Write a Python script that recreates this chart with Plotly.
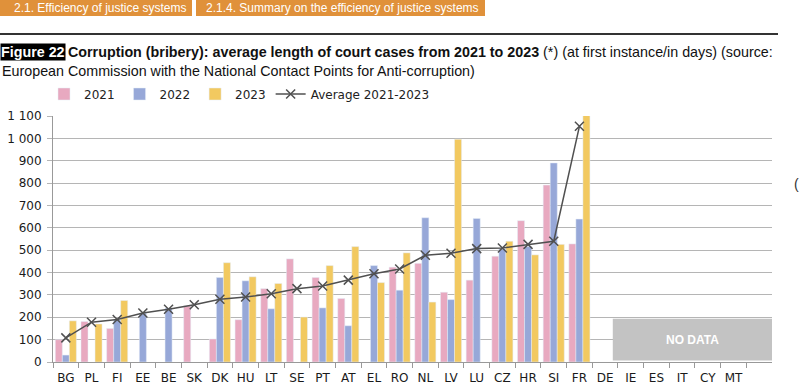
import plotly.graph_objects as go

countries = ["BG","PL","FI","EE","BE","SK","DK","HU","LT","SE","PT","AT","EL","RO",
             "NL","LV","LU","CZ","HR","SI","FR","DE","IE","ES","IT","CY","MT"]
v2021 = [100,181,150,None,None,251,103,189,328,461,378,284,None,424,441,312,366,473,632,791,528,None,None,None,None,None,None]
v2022 = [31,None,190,219,241,None,378,363,238,None,242,162,431,321,645,279,642,505,516,890,639,None,None,None,None,None,None]
v2023 = [184,170,275,None,None,None,444,381,351,201,431,516,355,488,268,996,None,540,479,526,1995,None,None,None,None,None,None]
avg = [108,178,190,219,236,256,281,291,305,328,340,366,395,416,477,486,507,510,526,540,1054,None,None,None,None,None,None]
ytick_vals = [0,100,200,300,400,500,600,700,800,900,1000,1100]
ytick_text = ["0","100","200","300","400","500","600","700","800","900","1 000","1 100"]

W, H = 800, 389
L, R, T, B = 53, 28, 116, 27
pw, ph = W - L - R, H - T - B

def px(x):
    return (x - L) / pw

def py(y):
    return (H - B - y) / ph

fig = go.Figure()
fig.add_bar(x=countries, y=v2021, name="2021", marker_color="#e8a9c0")
fig.add_bar(x=countries, y=v2022, name="2022", marker_color="#97a8d8")
fig.add_bar(x=countries, y=v2023, name="2023", marker_color="#f2c960")
fig.add_scatter(x=countries, y=avg, name="Average 2021-2023", mode="lines+markers",
                line=dict(color="#505050", width=1.5),
                marker=dict(symbol="x-thin", size=9, line=dict(color="#505050", width=1.5)))

font_main = "DejaVu Sans"
sans = "Liberation Sans, Arial, sans-serif"

fig.update_layout(
    width=W, height=H,
    margin=dict(l=L, r=R, t=T, b=B, autoexpand=False),
    plot_bgcolor="white", paper_bgcolor="white",
    barmode="group", bargap=0.18, bargroupgap=0,
    font=dict(family=font_main, size=12, color="#222"),
    showlegend=True,
    legend=dict(orientation="h", x=px(44), y=py(94), xanchor="left", yanchor="middle",
                font=dict(family=font_main, size=12, color="#222"),
                traceorder="normal", bgcolor="rgba(0,0,0,0)"),
    xaxis=dict(type="category", range=[-0.5, 27.5], showgrid=False,
               showline=True, linecolor="#999", linewidth=1, tickangle=0, automargin=False,
               ticks="outside", tickson="boundaries", ticklen=5, tickcolor="#999",
               ticklabelstandoff=5,
               categoryorder="array", categoryarray=countries,
               tickfont=dict(family=font_main, size=12, color="#1a1a1a")),
    yaxis=dict(range=[0, 1100], tickvals=ytick_vals, ticktext=ytick_text, automargin=False,
               showgrid=True, gridcolor="#b5b5b5", gridwidth=1,
               showline=True, linecolor="#999", linewidth=1,
               ticks="outside", ticklen=5, tickcolor="#b5b5b5",
               ticklabelstandoff=3, zeroline=False,
               tickfont=dict(family=font_main, size=12, color="#1a1a1a")),
)

shapes = []
annotations = []
# breadcrumb boxes
shapes.append(dict(type="rect", xref="paper", yref="paper", x0=px(0), x1=px(192), y0=py(16), y1=py(0),
                   fillcolor="#e0913a", line=dict(width=0), layer="above"))
shapes.append(dict(type="rect", xref="paper", yref="paper", x0=px(196), x1=px(485), y0=py(16), y1=py(0),
                   fillcolor="#e0913a", line=dict(width=0), layer="above"))
annotations.append(dict(xref="paper", yref="paper", x=px(12), y=py(8), xanchor="left", yanchor="middle",
                        text="2.1. Efficiency of justice systems", showarrow=False,
                        font=dict(family=sans, size=12, color="white")))
annotations.append(dict(xref="paper", yref="paper", x=px(204), y=py(8), xanchor="left", yanchor="middle",
                        text="2.1.4. Summary on the efficiency of justice systems", showarrow=False,
                        font=dict(family=sans, size=12, color="white")))
# rule line
shapes.append(dict(type="line", xref="paper", yref="paper", x0=px(0), x1=px(778), y0=py(34), y1=py(34),
                   line=dict(color="#333", width=2)))
# title
annotations.append(dict(xref="paper", yref="paper", x=px(0), y=py(52), xanchor="left", yanchor="middle",
                        text="<b>Figure 22</b>", showarrow=False, bgcolor="black", borderpad=0,
                        font=dict(family=sans, size=14.3, color="white")))
annotations.append(dict(xref="paper", yref="paper", x=px(66), y=py(52), xanchor="left", yanchor="middle",
                        text="<b>Corruption (bribery): average length of court cases from 2021 to 2023</b> (*) (at first instance/in days) (source:",
                        showarrow=False, font=dict(family=sans, size=14.3, color="#111")))
annotations.append(dict(xref="paper", yref="paper", x=px(0), y=py(71), xanchor="left", yanchor="middle",
                        text="European Commission with the National Contact Points for Anti-corruption)",
                        showarrow=False, font=dict(family=sans, size=14.3, color="#111")))
# stray page character at right edge
annotations.append(dict(xref="paper", yref="paper", x=px(792), y=py(184), xanchor="left", yanchor="middle",
                        text="(", showarrow=False, font=dict(family=sans, size=14, color="#333")))
# no data box
shapes.append(dict(type="rect", xref="x", yref="y", x0=21.3, x1=27.5, y0=7, y1=193,
                   fillcolor="#c3c3c3", line=dict(width=0), layer="above"))
annotations.append(dict(xref="x", yref="y", x=24.4, y=100, text="<b>NO DATA</b>", showarrow=False,
                        font=dict(family=sans, size=12, color="white")))

fig.update_layout(shapes=shapes, annotations=annotations)
fig.write_html("out.html", config={"displayModeBar": False},
               post_script="document.body.style.margin='0';")
